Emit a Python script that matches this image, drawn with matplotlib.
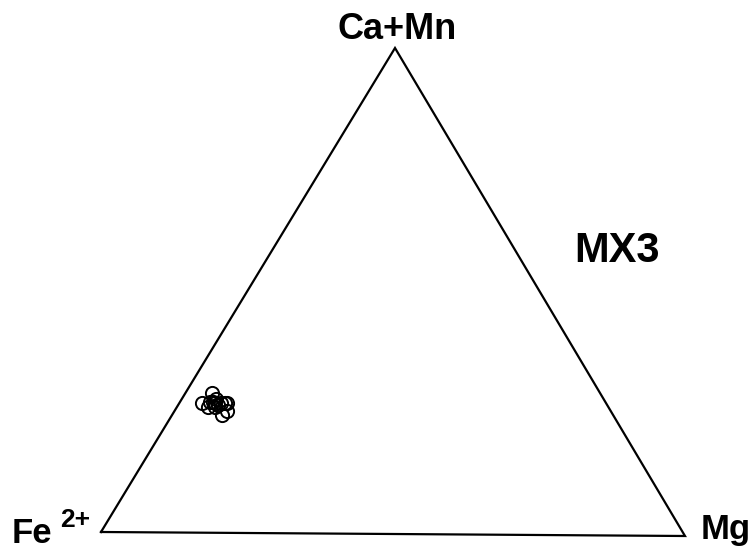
import numpy as np
import matplotlib.pyplot as plt

plt.rcParams['font.family'] = ['Liberation Sans', 'DejaVu Sans']

# ternary compositions (fractions): Fe2+, Mg, Ca+Mn
fe = [0.668, 0.695, 0.675, 0.669, 0.655, 0.673, 0.676, 0.689, 0.651, 0.673, 0.662, 0.667, 0.660, 0.680]
mg = [0.045, 0.038, 0.056, 0.068, 0.078, 0.085, 0.066, 0.053, 0.082, 0.060, 0.070, 0.058, 0.090, 0.050]
ca_mn = [0.287, 0.267, 0.269, 0.263, 0.267, 0.242, 0.258, 0.258, 0.266, 0.267, 0.268, 0.275, 0.250, 0.270]

corner_labels = ['Fe', 'Mg', 'Ca+Mn']
title = 'MX3'

# triangle corners in figure pixels (Fe, Mg, Ca+Mn)
corners = np.array([[101.0, 532.0], [685.0, 536.0], [395.0, 48.0]])


def to_xy(a, b, c):
    w = np.vstack([a, b, c]).T
    w = w / w.sum(axis=1, keepdims=True)
    return w @ corners


fig = plt.figure(figsize=(7.56, 5.5), dpi=100)
ax = fig.add_axes([0, 0, 1, 1])
ax.set_xlim(0, 756)
ax.set_ylim(550, 0)
ax.axis('off')

tri = np.vstack([corners, corners[:1]])
ax.plot(tri[:, 0], tri[:, 1], color='black', lw=1.6, solid_joinstyle='miter')

xy = to_xy(fe, mg, ca_mn)
ax.plot(xy[:, 0], xy[:, 1], 'o', mfc='none', mec='black', ms=9.5, mew=1.4)

ax.text(12, 543, corner_labels[0], fontsize=25, fontweight='bold', va='baseline', ha='left')
ax.text(60, 527, '2+', fontsize=19, fontweight='bold', va='baseline', ha='left')
ax.text(701, 539, corner_labels[1], fontsize=25, fontweight='bold', va='baseline', ha='left')
ax.text(397, 39, corner_labels[2], fontsize=26, fontweight='bold', va='baseline', ha='center')
ax.text(574, 262, title, fontsize=30, fontweight='bold', va='baseline', ha='left')

fig.savefig('out.png', dpi=100)
